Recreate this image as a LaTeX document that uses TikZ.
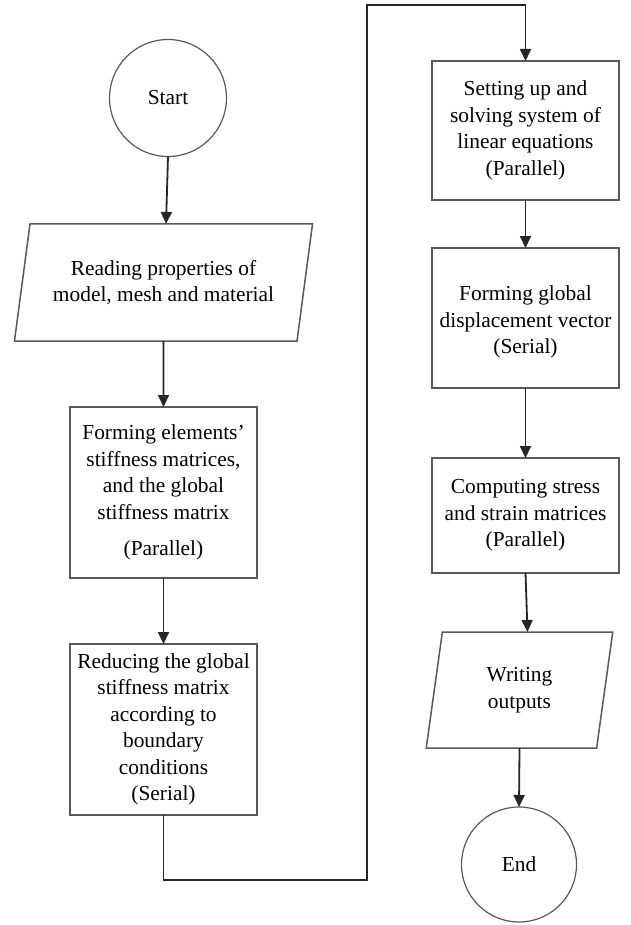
\documentclass[tikz,border=0pt]{standalone}
\usepackage{fontspec}
\setmainfont{Liberation Serif}
\usetikzlibrary{shapes.geometric,arrows.meta,calc}
\begin{document}
\begin{tikzpicture}[x=1pt,y=-1pt,
  every node/.style={font=\fontsize{21.4}{26.5}\selectfont, align=center, text=black, outer sep=0pt},
  proc/.style={draw=black!65, line width=1.5pt, rectangle, minimum width=187pt, inner sep=2pt},
  term/.style={draw=black!65, line width=1.2pt, circle, minimum size=117pt, inner sep=0pt},
  io/.style={draw=black!65, line width=1.5pt, trapezium, trapezium stretches=true},
  arr/.style={draw=black!85, line width=1.8pt, -{Triangle[length=12pt,width=11pt]}}]
\useasboundingbox (0,0) rectangle (630,925);
\node[term] (start) at (168,98) {Start};
\node[io, trapezium left angle=75.6, trapezium right angle=104.4, minimum width=299pt, minimum height=117pt] (p1) at (163.5,282.5) {Reading properties of\\model, mesh and material};
\node[proc, minimum height=171pt] (b1) at (163.5,492.5) {Forming elements’\\stiffness matrices,\\and the global\\stiffness matrix\\[10pt](Parallel)};
\node[proc, minimum height=171pt] (b2) at (163.5,729.5) {Reducing the global\\stiffness matrix\\according to\\boundary\\conditions\\(Serial)};
\node[proc, minimum height=139pt] (b3) at (525.5,130.5) {Setting up and\\solving system of\\linear equations\\(Parallel)};
\node[proc, minimum height=140pt] (b4) at (525.5,318) {\mbox{}\\[-3pt]Forming global\\displacement vector\\(Serial)};
\node[proc, minimum height=115pt] (b5) at (525.5,515.5) {Computing stress\\and strain matrices\\(Parallel)};
\node[io, trapezium left angle=81.7, trapezium right angle=98.3, minimum width=187pt, minimum height=116pt] (p2) at (519.5,690) {Writing\\outputs};
\node[term, minimum size=115pt] (end) at (519,864.5) {End};
\coordinate (c1) at (367,880);
\coordinate (c2) at (367,5);
\draw[arr] (start.south) -- ($(p1.north)+(2.5,0)$);
\draw[arr] (p1.south) -- (b1.north);
\draw[arr] (b1.south) -- (b2.north);
\draw[arr] (b2.south) |- (c1) -- (c2) -| (b3.north);
\draw[arr] (b3.south) -- (b4.north);
\draw[arr] (b4.south) -- (b5.north);
\draw[arr] (b5.south) -- ($(p2.north)+(8,0)$);
\draw[arr] (p2.south) -- (end.north);
\end{tikzpicture}
\end{document}
